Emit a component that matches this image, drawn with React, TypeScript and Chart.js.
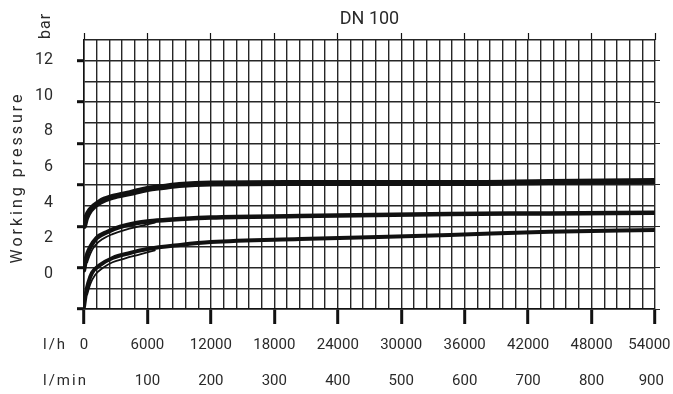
import React, { useEffect, useRef } from "react";
import { Chart, registerables } from "chart.js";

Chart.register(...registerables);

// ---- data ----
// flow in l/h, working pressure in bar
const FLOW_TOP = [0, 200, 600, 1500, 2700, 4350, 6000, 7500, 9000, 12000, 20400, 34600, 44000, 54000];
const P_TOP = [2.69, 3.14, 3.59, 4.04, 4.32, 4.54, 4.77, 4.88, 4.99, 5.08, 5.1, 5.1, 5.16, 5.22];

const FLOW_MID = [0, 200, 600, 1200, 2200, 3400, 5000, 6500, 9100, 12000, 20400, 34600, 44000, 54000];
const P_MID = [0.22, 0.9, 1.51, 2.02, 2.36, 2.64, 2.86, 2.97, 3.08, 3.17, 3.25, 3.37, 3.4, 3.44];

const FLOW_MID_B = [300, 600, 1050, 1800, 2700, 3900, 5300, 6700];
const P_MID_B = [0.65, 1.15, 1.6, 1.98, 2.24, 2.48, 2.68, 2.88];

const FLOW_BOT = [0, 200, 400, 750, 1500, 2700, 4350, 6000, 9100, 12000, 20400, 34600, 44000, 54000];
const P_BOT = [-1.85, -1.01, -0.5, 0.06, 0.5, 0.9, 1.18, 1.4, 1.63, 1.79, 1.96, 2.19, 2.37, 2.47];

const FLOW_BOT_B = [300, 600, 1050, 1800, 2700, 3900, 5300, 6700];
const P_BOT_B = [-1.15, -0.55, -0.05, 0.35, 0.66, 0.88, 1.1, 1.33];

// ---- axes ----
const X_MAX = 54000;
const X_GRID_STEP = 1200;
const X_LH_TICKS = [0, 6000, 12000, 18000, 24000, 30000, 36000, 42000, 48000, 54000];
const X_LMIN_MAX = 900;
const X_LMIN_TICKS = [100, 200, 300, 400, 500, 600, 700, 800, 900];
const Y_TICKS = [0, 2, 4, 6, 8, 10, 12];
const Y_MIN = -1.96;
const Y_MAX = 13.12;
const GRID_ROWS = 13;

const TITLE = "DN 100";
const Y_TITLE = "Working pressure";
const Y_UNIT = "bar";
const X_UNIT_1 = "l/h";
const X_UNIT_2 = "l/min";

const TEXT = "#2a2a2a";
const INK = "#111111";
const GRID_COLOR = "#262626";
const GRID_WIDTH = 1.4;
const FONT = "Roboto, 'Open Sans', sans-serif";

function range(start: number, end: number, step: number): number[] {
  const out: number[] = [];
  for (let v = start; v <= end + 1e-9; v += step) out.push(v);
  return out;
}

const X_GRID = range(0, X_MAX, X_GRID_STEP);
const Y_GRID = range(0, GRID_ROWS, 1);

function pts(xs: number[], ys: number[]) {
  return xs.map((x, i) => ({ x, y: ys[i] }));
}

const extraText = {
  id: "extraText",
  afterDraw(chart: any) {
    const { ctx, chartArea, scales } = chart;
    ctx.save();
    ctx.fillStyle = TEXT;

    // "bar"
    ctx.save();
    ctx.translate(chartArea.left - 34, chartArea.top - 14);
    ctx.rotate(-Math.PI / 2);
    ctx.font = `16px ${FONT}`;
    (ctx as any).letterSpacing = "1px";
    ctx.textAlign = "center";
    ctx.textBaseline = "alphabetic";
    ctx.fillText(Y_UNIT, 0, 0);
    ctx.restore();

    // "Working pressure"
    ctx.save();
    ctx.translate(chartArea.left - 62, (chartArea.top + chartArea.bottom) / 2 + 3);
    ctx.rotate(-Math.PI / 2);
    ctx.font = `16px ${FONT}`;
    (ctx as any).letterSpacing = "3px";
    ctx.textAlign = "center";
    ctx.textBaseline = "alphabetic";
    ctx.fillText(Y_TITLE, 0, 0);
    ctx.restore();

    // unit labels for the two x rows
    ctx.save();
    ctx.font = `15px ${FONT}`;
    (ctx as any).letterSpacing = "2px";
    ctx.textAlign = "left";
    ctx.textBaseline = "middle";
    ctx.fillText(X_UNIT_1, chartArea.left - 41, scales.x.top + 36);
    ctx.fillText(X_UNIT_2, chartArea.left - 41, scales.x2.top + 27);
    ctx.restore();

    ctx.restore();
  },
};

export default function App() {
  const ref = useRef<HTMLCanvasElement | null>(null);

  useEffect(() => {
    if (!ref.current) return;
    Chart.defaults.font.family = FONT;
    const isMajorX = (v: number) => X_LH_TICKS.includes(v);
    const isMajorY = (v: number) => Y_TICKS.includes(v);

    const lineDs = (label: string, data: any[], width: number) => ({
      label,
      data,
      borderColor: INK,
      backgroundColor: INK,
      borderWidth: width,
      pointRadius: 0,
      fill: false,
      cubicInterpolationMode: "monotone" as const,
      borderCapStyle: "round" as const,
      xAxisID: "x",
      yAxisID: "y",
    });

    const chart = new Chart(ref.current, {
      type: "line",
      data: {
        datasets: [
          lineDs("upper", pts(FLOW_TOP, P_TOP), 6),
          lineDs("middle", pts(FLOW_MID, P_MID), 4.5),
          lineDs("middle b", pts(FLOW_MID_B, P_MID_B), 1.8),
          lineDs("lower", pts(FLOW_BOT, P_BOT), 4),
          lineDs("lower b", pts(FLOW_BOT_B, P_BOT_B), 1.8),
        ],
      },
      options: {
        animation: false,
        responsive: false,
        devicePixelRatio: 1,
        layout: { padding: { left: 0, right: 13, top: 0, bottom: 0 } },
        plugins: {
          legend: { display: false },
          tooltip: { enabled: false },
          title: {
            display: true,
            text: TITLE,
            fullSize: false,
            color: TEXT,
            font: { size: 18, weight: "normal", family: FONT },
            padding: { top: 8.5, bottom: 2.9 },
          },
        },
        scales: {
          x: {
            type: "linear",
            position: "bottom",
            weight: 0,
            min: 0,
            max: X_MAX,
            afterBuildTicks: (s: any) => {
              s.ticks = X_GRID.map((v) => ({ value: v }));
            },
            afterFit: (s: any) => {
              s.height = 45;
              s.paddingLeft = 0;
              s.paddingRight = 0;
            },
            grid: {
              color: GRID_COLOR,
              lineWidth: GRID_WIDTH,
              drawTicks: true,
              tickLength: 15,
              tickWidth: 3,
              tickColor: (c: any) => (c.tick && isMajorX(c.tick.value) ? INK : "rgba(0,0,0,0)"),
            },
            border: { display: true, color: INK, width: 1.5 },
            ticks: {
              autoSkip: false,
              maxRotation: 0,
              minRotation: 0,
              padding: 12,
              color: TEXT,
              font: { size: 15 },
              callback: (v: any) => {
                const n = Number(v);
                if (!isMajorX(n)) return "";
                return n === X_MAX ? String(n) + "   " : String(n);
              },
            },
          },
          x2: {
            type: "linear",
            position: "bottom",
            weight: 1,
            min: 0,
            max: X_LMIN_MAX,
            afterBuildTicks: (s: any) => {
              s.ticks = X_LMIN_TICKS.map((v) => ({ value: v }));
            },
            afterFit: (s: any) => {
              s.height = 40;
              s.paddingLeft = 0;
              s.paddingRight = 0;
            },
            grid: { display: false, drawTicks: false },
            border: { display: false },
            ticks: {
              autoSkip: false,
              maxRotation: 0,
              minRotation: 0,
              padding: 18,
              color: TEXT,
              font: { size: 15 },
              callback: (v: any) => {
                const n = Number(v);
                return n === X_LMIN_MAX ? String(n) + "  " : String(n);
              },
            },
          },
          xt: {
            type: "linear",
            position: "top",
            min: 0,
            max: X_MAX,
            afterBuildTicks: (s: any) => {
              s.ticks = X_LH_TICKS.map((v) => ({ value: v }));
            },
            afterFit: (s: any) => {
              s.height = 7;
              s.paddingLeft = 0;
              s.paddingRight = 0;
            },
            grid: { drawOnChartArea: false, drawTicks: true, tickLength: 7, tickWidth: 1.2, tickColor: INK },
            border: { display: false },
            ticks: { display: false },
          },
          yg: {
            type: "linear",
            position: "left",
            weight: 0,
            min: 0,
            max: GRID_ROWS,
            afterBuildTicks: (s: any) => {
              s.ticks = Y_GRID.map((v) => ({ value: v }));
            },
            afterFit: (s: any) => {
              s.width = 7;
              s.paddingTop = 0;
              s.paddingBottom = 0;
            },
            grid: {
              color: GRID_COLOR,
              lineWidth: GRID_WIDTH,
              drawTicks: true,
              tickLength: 7,
              tickWidth: 3,
              tickColor: (c: any) => (c.tick && isMajorY(c.tick.value) ? INK : "rgba(0,0,0,0)"),
            },
            border: { display: true, color: INK, width: 1.5 },
            ticks: { display: false },
          },
          y: {
            type: "linear",
            position: "left",
            weight: 1,
            min: Y_MIN,
            max: Y_MAX,
            afterBuildTicks: (s: any) => {
              s.ticks = Y_TICKS.map((v) => ({ value: v }));
            },
            afterFit: (s: any) => {
              s.width = 77;
              s.paddingTop = 0;
              s.paddingBottom = 0;
            },
            grid: { display: false, drawTicks: false },
            border: { display: false },
            ticks: { padding: 24, color: TEXT, font: { size: 16 } },
          },
          yr: {
            type: "linear",
            position: "right",
            min: 0,
            max: GRID_ROWS,
            afterBuildTicks: (s: any) => {
              s.ticks = Y_TICKS.map((v) => ({ value: v }));
            },
            afterFit: (s: any) => {
              s.width = 5;
              s.paddingTop = 0;
              s.paddingBottom = 0;
            },
            grid: { drawOnChartArea: false, drawTicks: true, tickLength: 5, tickWidth: 1, tickColor: GRID_COLOR },
            border: { display: false },
            ticks: { display: false },
          },
        },
      } as any,
      plugins: [extraText],
    });
    return () => chart.destroy();
  }, []);

  return (
    <div style={{ position: "fixed", left: 0, top: 0, width: 673, height: 394, background: "#fff" }}>
      <canvas ref={ref} width={673} height={394} style={{ display: "block", width: 673, height: 394 }} />
    </div>
  );
}
